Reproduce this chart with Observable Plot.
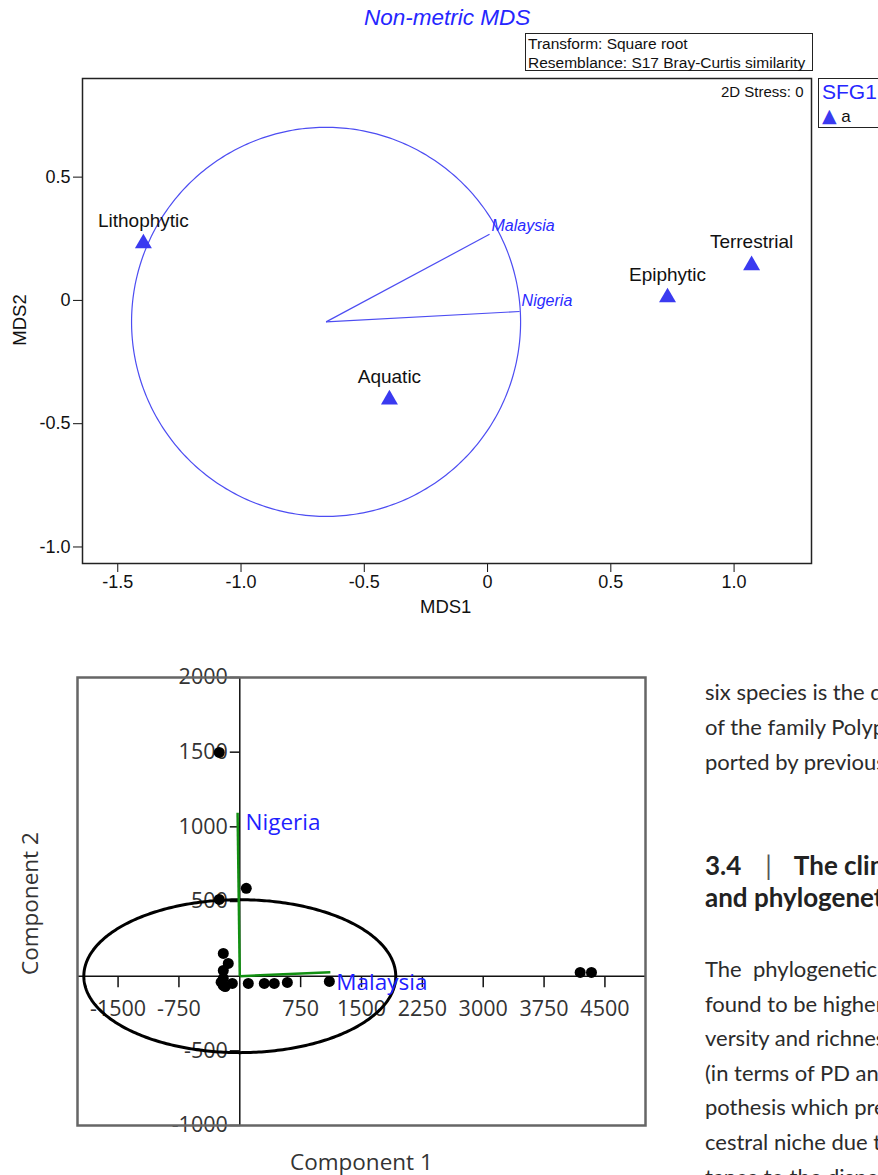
<!DOCTYPE html>
<html>
<head>
<meta charset="utf-8">
<script src="https://cdn.jsdelivr.net/npm/d3@7"></script>
<script src="https://cdn.jsdelivr.net/npm/@observablehq/plot@0.6"></script>
<style>
  html, body { margin: 0; padding: 0; background: #fff; }
  body { width: 878px; height: 1175px; overflow: hidden; position: relative; }
  .abs { position: absolute; white-space: nowrap; }
  #mds { position: absolute; left: 0; top: 0; }
  #pca { position: absolute; left: 0; top: 640px; }
  .ar { font-family: "Liberation Sans", Arial, sans-serif; }
  .body-text { font-family: Lato, "Noto Sans", sans-serif; font-size: 22px; color: #2b2b2b; }
  .head-text { font-family: Lato, "Noto Sans", sans-serif; font-size: 26px; font-weight: bold; color: #222; }
</style>
</head>
<body>
<div class="abs ar" style="left:364px;top:5px;font-size:22.5px;font-style:italic;color:#2626ff;">Non-metric MDS</div>
<div class="abs ar" style="left:525px;top:33px;width:284px;height:36px;border:1px solid #222;font-size:15.5px;line-height:19px;padding-left:2px;color:#111;">Transform: Square root<br>Resemblance: S17 Bray-Curtis similarity</div>
<div class="abs ar" style="left:818px;top:78px;width:80px;height:48px;border:1px solid #222;">
  <div style="position:absolute;left:3px;top:1px;font-size:21px;color:#2626ff;">SFG1</div>
  <div style="position:absolute;left:3px;top:25px;font-size:17px;color:#111;"><span style="color:#3a3af0;font-family:'DejaVu Sans';font-size:19px;">▲</span> a</div>
</div>
<div id="mds"></div>
<div class="abs ar" style="left:420px;top:596px;font-size:18.5px;color:#111;">MDS1</div>
<div class="abs ar" style="left:-6px;top:309px;font-size:18.5px;color:#111;transform:rotate(-90deg);transform-origin:26px 11px;width:52px;text-align:center;">MDS2</div>

<div id="pca"></div>
<div class="abs" style="left:290px;top:1146px;font-family:'Open Sans';font-size:22.5px;color:#333;">Component 1</div>
<div class="abs" style="left:-40px;top:889px;width:140px;text-align:center;font-family:'Open Sans';font-size:22.5px;color:#333;transform:rotate(-90deg);transform-origin:70px 16px;">Component 2</div>

<div class="abs body-text" style="left:705px;top:674px;line-height:35px;">six species is the dominant group<br>of the family Polypodiaceae, as re-<br>ported by previous studies</div>
<div class="abs head-text" style="left:705px;top:849px;line-height:32px;">3.4<span style="font-weight:normal;color:#555;margin-left:24px;margin-right:22px;">|</span>The climatic niche<br>and phylogenetic signal</div>
<div class="abs body-text" style="left:705px;top:952px;line-height:34.6px;">The&nbsp; phylogenetic diversity was<br>found to be higher in the<br>versity and richness of ferns<br>(in terms of PD and SR)<br>pothesis which predicts<br>cestral niche due to the<br>tance to the dispersal</div>

<script>
// ---------- Chart 1: Non-metric MDS ----------
const mdsNames = ["Lithophytic", "Aquatic", "Epiphytic", "Terrestrial"];
const mdsX = [-1.396, -0.398, 0.730, 1.071];
const mdsY = [0.231, -0.402, 0.012, 0.142];
const mdsVecNames = ["Malaysia", "Nigeria"];
const mdsVecX = [0.008, 0.130];
const mdsVecY = [0.268, -0.045];
const mdsCircleCenter = [-0.655, -0.087];
const mdsCircleRadius = 0.789;
const mdsXTicks = [-1.5, -1.0, -0.5, 0, 0.5, 1.0];
const mdsXTickLabels = ["-1.5", "-1.0", "-0.5", "0", "0.5", "1.0"];
const mdsYTicks = [-1.0, -0.5, 0, 0.5];
const mdsYTickLabels = ["-1.0", "-0.5", "0", "0.5"];

const mdsPts = mdsNames.map((n, i) => ({name: n, x: mdsX[i], y: mdsY[i]}));
const mdsVecs = mdsVecNames.map((n, i) => ({name: n, x1: mdsCircleCenter[0], y1: mdsCircleCenter[1], x2: mdsVecX[i], y2: mdsVecY[i]}));
const circlePts = d3.range(0, 361).map(a => ({
  x: mdsCircleCenter[0] + mdsCircleRadius * Math.cos(a * Math.PI / 180),
  y: mdsCircleCenter[1] + mdsCircleRadius * Math.sin(a * Math.PI / 180)
}));
const mdsXFmt = new Map(mdsXTicks.map((t, i) => [t, mdsXTickLabels[i]]));
const mdsYFmt = new Map(mdsYTicks.map((t, i) => [t, mdsYTickLabels[i]]));
const blue = "#3a3af0";
const vecLabel = {x: "x2", y: "y2", text: "name", textAnchor: "start", dx: 2, fontStyle: "italic", fontSize: 16, fill: "#2a2aff"};

const mds = Plot.plot({
  width: 878, height: 625,
  marginTop: 78, marginRight: 67, marginBottom: 62, marginLeft: 82,
  x: {domain: [-1.643, 1.314]},
  y: {domain: [-1.067, 0.90]},
  style: {fontFamily: "'Liberation Sans', Arial, sans-serif", fontSize: "18px", background: "transparent", color: "#111", overflow: "visible"},
  marks: [
    Plot.axisX(mdsXTicks, {anchor: "bottom", tickSize: 9, tickPadding: 3, tickFormat: d => mdsXFmt.get(d), label: null, fontSize: 18}),
    Plot.axisY(mdsYTicks, {anchor: "left", tickSize: 9, tickPadding: 3, tickFormat: d => mdsYFmt.get(d), label: null, fontSize: 18}),
    Plot.line(circlePts, {x: "x", y: "y", stroke: "#4d4df2", strokeWidth: 1.2}),
    Plot.link(mdsVecs, {x1: "x1", y1: "y1", x2: "x2", y2: "y2", stroke: "#4d4df2", strokeWidth: 1.2}),
    Plot.text(mdsVecs.filter(d => d.name === "Malaysia"), {...vecLabel, dy: -8}),
    Plot.text(mdsVecs.filter(d => d.name === "Nigeria"), {...vecLabel, dy: -11}),
    Plot.dot(mdsPts, {x: "x", y: "y", symbol: "triangle", r: 6.3, fill: blue, stroke: "none"}),
    Plot.text(mdsPts, {x: "x", y: "y", text: "name", dy: -23, fontSize: 19, fill: "#111"}),
    Plot.text(["2D Stress: 0"], {frameAnchor: "top-right", lineAnchor: "middle", dx: -8, dy: 14, fontSize: 15, fill: "#111"}),
    Plot.frame({stroke: "#222", strokeWidth: 1.5})
  ]
});
document.getElementById("mds").appendChild(mds);

// ---------- Chart 2: PCA biplot ----------
const pcaX = [-253, 80, -253, -203, -142, -203, -203, -203, -230, -180, -92, 105, 302, 425, 586, 1104, 4195, 4334];
const pcaY = [1498, 588, 514, 152, 85, 38, -15, -62, -40, -70, -49, -49, -49, -49, -42, -35, 25, 25];
const pcaVecNames = ["Nigeria", "Malaysia"];
const pcaVecX = [-27, 1116];
const pcaVecY = [1095, 27];
const pcaEllipseCenter = [0, 0];
const pcaEllipseRadii = [1922, 512];
const pcaXTicks = [-1500, -750, 750, 1500, 2250, 3000, 3750, 4500];
const pcaXTickLabels = ["-1500", "-750", "750", "1500", "2250", "3000", "3750", "4500"];
const pcaYTicks = [2000, 1500, 1000, 500, -500, -1000];
const pcaYTickLabels = ["2000", "1500", "1000", "500", "-500", "-1000"];

const pcaPts = pcaX.map((x, i) => ({x, y: pcaY[i]}));
const pcaVecs = pcaVecNames.map((n, i) => ({name: n, x: pcaVecX[i], y: pcaVecY[i]}));
const ellipsePts = d3.range(0, 361).map(a => ({
  x: pcaEllipseCenter[0] + pcaEllipseRadii[0] * Math.cos(a * Math.PI / 180),
  y: pcaEllipseCenter[1] + pcaEllipseRadii[1] * Math.sin(a * Math.PI / 180)
}));
const xTickSym = {draw(ctx) { ctx.moveTo(0, 0); ctx.lineTo(0, 11); }};
const yTickSym = {draw(ctx) { ctx.moveTo(0, 0); ctx.lineTo(-10, 0); }};
const pcaLabel = {x: "x", y: "y", text: "name", textAnchor: "start", fontSize: 22.5, fill: "#1f1fff"};

const pca = Plot.plot({
  width: 660, height: 535,
  marginTop: 37, marginRight: 15, marginBottom: 50, marginLeft: 77,
  x: {domain: [-2000, 5000], axis: null},
  y: {domain: [-1000, 2000], axis: null},
  style: {fontFamily: "'Open Sans', sans-serif", fontSize: "21px", background: "transparent", overflow: "visible"},
  marks: [
    Plot.ruleX([0], {stroke: "#111", strokeWidth: 1.5}),
    Plot.ruleY([0], {stroke: "#111", strokeWidth: 1.5}),
    Plot.dot(pcaXTicks, {x: d => d, y: () => 0, symbol: xTickSym, fill: "none", stroke: "#111", strokeWidth: 1.5}),
    Plot.dot(pcaYTicks, {x: () => 0, y: d => d, symbol: yTickSym, fill: "none", stroke: "#111", strokeWidth: 1.5}),
    Plot.text(pcaXTicks, {x: d => d, y: () => 0, text: (d, i) => pcaXTickLabels[i], dy: 33, fontSize: 21.5, fill: "#333"}),
    Plot.text(pcaYTicks, {x: () => 0, y: d => d, text: (d, i) => pcaYTickLabels[i], dx: -12, textAnchor: "end", fontSize: 21.5, fill: "#333"}),
    Plot.line(ellipsePts, {x: "x", y: "y", stroke: "#000", strokeWidth: 3}),
    Plot.link(pcaVecs, {x1: () => 0, y1: () => 0, x2: "x", y2: "y", stroke: "#129012", strokeWidth: 2.5}),
    Plot.dot(pcaPts, {x: "x", y: "y", r: 5.5, fill: "#000"}),
    Plot.text(pcaVecs.filter(d => d.name === "Nigeria"), {...pcaLabel, dx: 8, dy: 10}),
    Plot.text(pcaVecs.filter(d => d.name === "Malaysia"), {...pcaLabel, dx: 6, dy: 11}),
    Plot.frame({stroke: "#666", strokeWidth: 2.5})
  ]
});
document.getElementById("pca").appendChild(pca);
</script>
</body>
</html>
